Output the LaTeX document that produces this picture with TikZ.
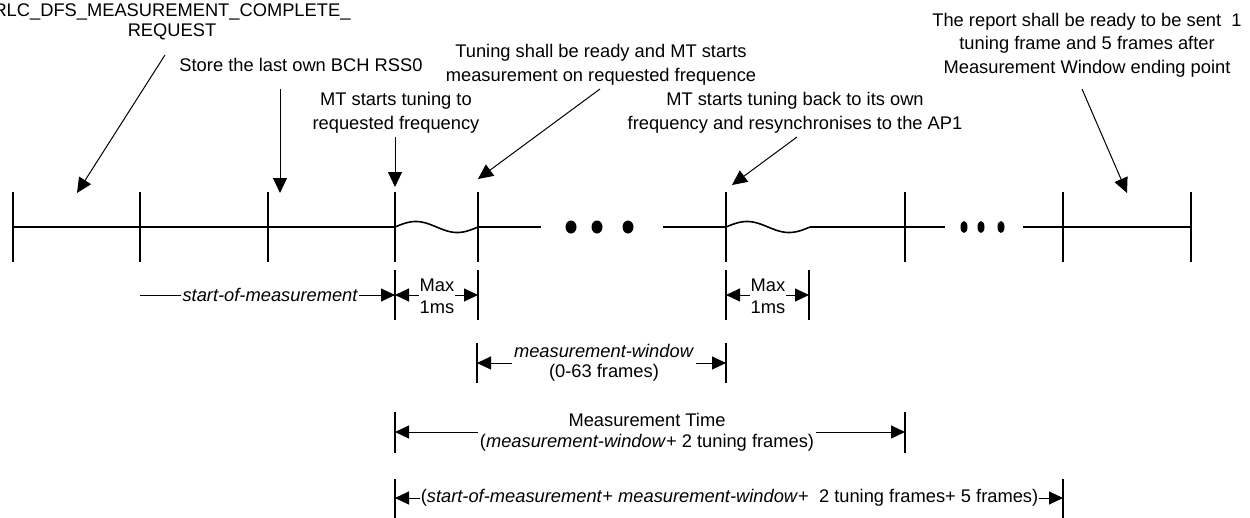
\documentclass[tikz,border=0pt]{standalone}
\usepackage{fontspec}
\setmainfont{Liberation Sans}
\usetikzlibrary{arrows.meta}
\begin{document}
\begin{tikzpicture}[x=1pt,y=-1pt,
  font=\fontsize{18.3pt}{23.5pt}\selectfont,
  axisline/.style={line width=1.6pt},
  tickline/.style={line width=2pt},
  dimtick/.style={line width=1.6pt},
  dimline/.style={line width=1pt,{Triangle[length=14pt,width=13pt]}-{Triangle[length=14pt,width=13pt]}},
  halfdim/.style={line width=1pt,-{Triangle[length=14pt,width=13pt]}},
  pointer/.style={line width=1pt,-{Triangle[length=15pt,width=14pt]}},
  lbl/.style={align=center,inner sep=0pt},
  dimlbl/.style={align=center,fill=white,inner sep=2pt,font=\fontsize{18.3pt}{21pt}\selectfont},
]
\useasboundingbox (0,0) rectangle (1250,517);

% main time line ticks
\foreach \n/\x in {a/13,b/140,c/268,d/395,e/478,f/726,g/905,h/1063,i/1191} {
  \coordinate (t\n) at (\x,227);
  \draw[tickline] (\x,192) -- (\x,262);
}
% time line segments
\coordinate (gap1a) at (541,227);
\coordinate (gap1b) at (663,227);
\coordinate (gap2a) at (945,227);
\coordinate (gap2b) at (1023,227);
\coordinate (w2end) at (810,227);
\draw[axisline] (ta) -- (td);
\draw[axisline] plot[domain=0:1,samples=60] ({395+83*\x},{227-5.5*sin(360*\x)});
\draw[axisline] (te) -- (gap1a);
\foreach \x in {571,597,628} \fill (\x,227) ellipse[x radius=5.5pt,y radius=6.5pt];
\draw[axisline] (gap1b) -- (tf);
\draw[axisline] plot[domain=0:1,samples=60] ({726+84*\x},{227-5.5*sin(360*\x)});
\draw[axisline] (w2end) -- (gap2a);
\foreach \x in {964,981,1001} \fill (\x,227) ellipse[x radius=3.5pt,y radius=6pt];
\draw[axisline] (gap2b) -- (ti);

% top labels
\node[lbl,font=\fontsize{18.3pt}{20pt}\selectfont] (rlc) at (172,22) {RLC\_DFS\_MEASUREMENT\_COMPLETE\_\\REQUEST};
\node[lbl] (store) at (301,65) {Store the last own BCH RSS0};
\node[lbl] (tunestart) at (396,113) {MT starts tuning to\\requested frequency};
\node[lbl] (ready) at (601,65) {Tuning shall be ready and MT starts\\measurement on requested frequence};
\node[lbl] (tuneback) at (795,113) {MT starts tuning back to its own\\frequency and resynchronises to the AP1};
\node[lbl] (report) at (1087,45) {The report shall be ready to be sent\ \ 1\\tuning frame and 5 frames after\\Measurement Window ending point};

% pointer arrows
\coordinate (p1s) at (165,55);   \coordinate (p1e) at (77,193);
\coordinate (p2s) at (280,89);   \coordinate (p2e) at (280,193);
\coordinate (p3s) at (395,137);  \coordinate (p3e) at (395,187);
\coordinate (p4s) at (600,89);   \coordinate (p4e) at (478,179);
\coordinate (p5s) at (797,137);  \coordinate (p5e) at (732,185);
\coordinate (p6s) at (1082,89);  \coordinate (p6e) at (1127,193);
\foreach \k in {1,...,6} \draw[pointer] (p\k s) -- (p\k e);

% row 1: start-of-measurement and Max 1ms
\foreach \x in {395,478,726,809} \draw[dimtick] (\x,270) -- (\x,320);
\coordinate (sm0) at (140,295);
\coordinate (sm1) at (395,295);
\coordinate (mx1a) at (395,295); \coordinate (mx1b) at (478,295);
\coordinate (mx2a) at (726,295); \coordinate (mx2b) at (809,295);
\draw[halfdim] (sm0) -- (sm1);
\node[dimlbl,font=\fontsize{18.3pt}{21pt}\selectfont\itshape] (som) at (270,295) {start-of-measurement};
\draw[dimline] (mx1a) -- (mx1b);
\node[dimlbl,inner sep=1pt,font=\fontsize{18.3pt}{22pt}\selectfont] (max1) at (437,296) {Max\\1ms};
\draw[dimline] (mx2a) -- (mx2b);
\node[dimlbl,inner sep=1pt,font=\fontsize{18.3pt}{22pt}\selectfont] (max2) at (768,296) {Max\\1ms};

% row 2: measurement-window
\foreach \x in {477,726} \draw[dimtick] (\x,343) -- (\x,383);
\coordinate (mw0) at (477,363); \coordinate (mw1) at (726,363);
\draw[dimline] (mw0) -- (mw1);
\node[dimlbl,font=\fontsize{18.3pt}{20pt}\selectfont] (mw) at (604,363) {\textit{measurement-window}\\(0-63 frames)};

% row 3: measurement time
\foreach \x in {395,905} \draw[dimtick] (\x,412) -- (\x,453);
\coordinate (mt0) at (395,432); \coordinate (mt1) at (905,432);
\draw[dimline] (mt0) -- (mt1);
\node[dimlbl] (mt) at (647,432) {Measurement Time\\(\textit{measurement-window}+ 2 tuning frames)};

% row 4: total
\foreach \x in {395,1063} \draw[dimtick] (\x,479) -- (\x,520);
\coordinate (tt0) at (395,498); \coordinate (tt1) at (1063,498);
\draw[dimline] (tt0) -- (tt1);
\node[dimlbl,inner sep=1pt] (tot) at (729.5,498) {(\textit{start-of-measurement}+ \textit{measurement-window}+\ \ 2 tuning frames+ 5 frames)};
\end{tikzpicture}
\end{document}
